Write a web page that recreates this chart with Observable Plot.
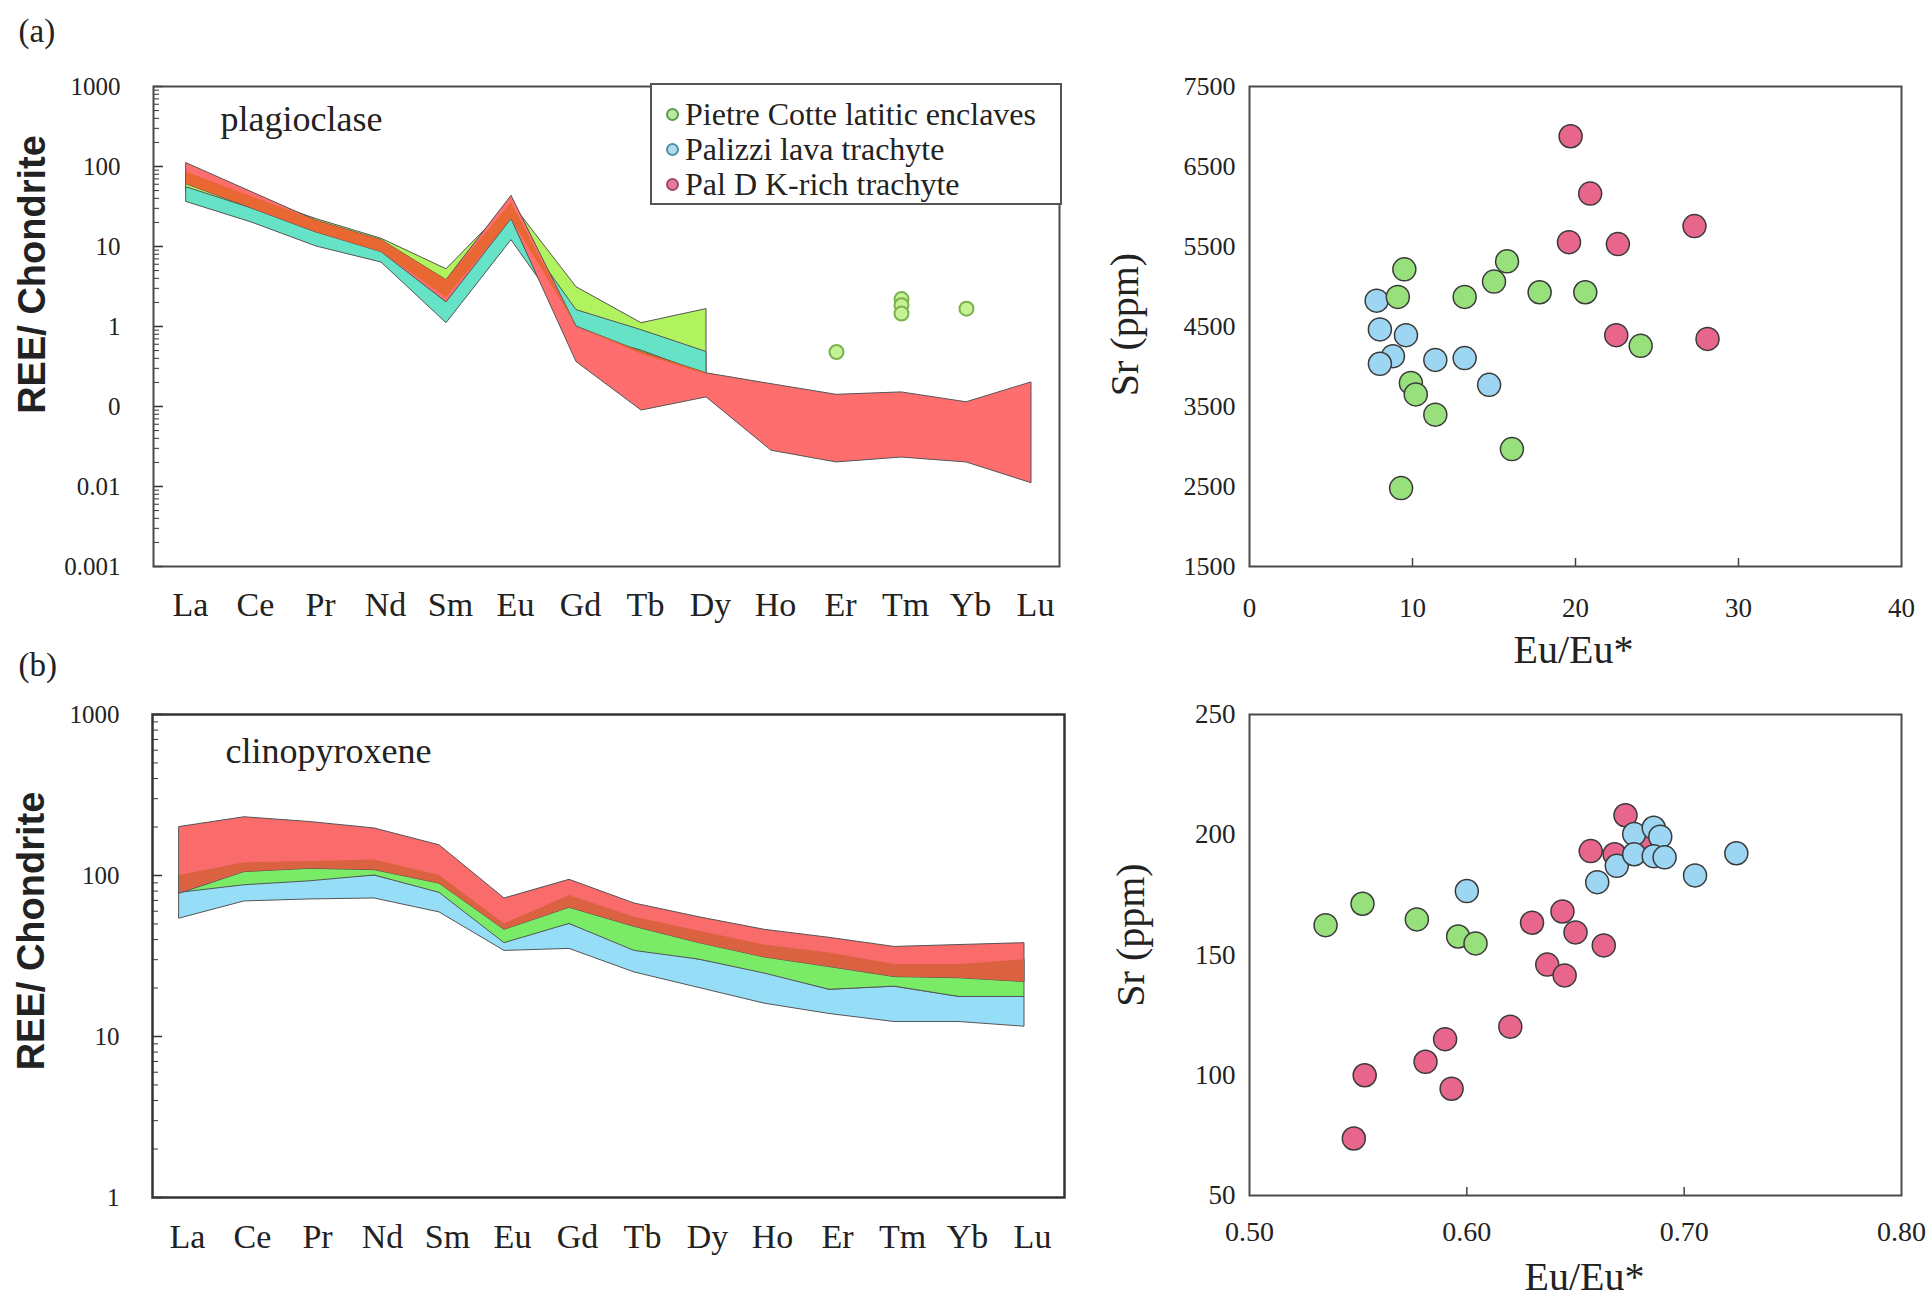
<!DOCTYPE html>
<html><head><meta charset="utf-8">
<script src="https://cdn.jsdelivr.net/npm/d3@7"></script>
<script src="https://cdn.jsdelivr.net/npm/@observablehq/plot@0.6"></script>
<style>
body{margin:0;background:#fff;}
#wrap{position:relative;width:1931px;height:1302px;background:#fff;overflow:hidden;font-family:"Liberation Serif","Times New Roman",serif;}
.legend{position:absolute;left:650px;top:83px;width:412px;height:122px;box-sizing:border-box;border:2px solid #555;background:#fff;padding-top:12px;}
.legend .row{height:35px;display:flex;align-items:center;font-size:32px;color:#222;white-space:nowrap;font-family:"Liberation Serif","Times New Roman",serif;}
.legend .mk{width:13px;height:13px;border-radius:50%;border:2px solid;margin-left:14px;margin-right:6px;box-sizing:border-box;}
</style></head>
<body><div id="wrap"></div>
<script>
// ---------- data ----------
const elements = ["La","Ce","Pr","Nd","Sm","Eu","Gd","Tb","Dy","Ho","Er","Tm","Yb","Lu"];

// (a) plagioclase REE/Chondrite ranges (low / high)
const plagPietreLo  = [48, 26, 14, 8, 2.3, 18, 1.0, 0.45, 0.25];
const plagPietreHi  = [85, 42, 22, 12.5, 5.2, 35, 3.1, 1.1, 1.65];
const plagPalizziLo = [36, 20, 10, 6.3, 1.1, 12, 0.85, 0.5, 0.25];
const plagPalizziHi = [55, 30, 15, 9.5, 2.4, 22, 1.6, 0.9, 0.48];
const plagPalDLo    = [60, 30, 15, 8.5, 2.0, 22, 0.36, 0.089, 0.13, 0.028, 0.02, 0.023, 0.02, 0.011];
const plagPalDHi    = [110, 48, 21, 12, 3.8, 43, 1.0, 0.48, 0.26, 0.19, 0.14, 0.15, 0.113, 0.2];
const plagPietrePtEl  = ["Er","Tm","Tm","Tm","Yb"];
const plagPietrePtVal = [0.48, 2.2, 1.85, 1.45, 1.67];

// (a) plagioclase Sr vs Eu/Eu*
const plagPietreEu  = [9.5, 9.1, 13.2, 15.0, 15.8, 17.8, 20.6, 24.0, 9.9, 10.2, 11.4, 16.1, 9.3];
const plagPietreSr  = [5215, 4870, 4870, 5062, 5315, 4928, 4928, 4258, 3795, 3651, 3398, 2968, 2480];
const plagPalizziEu = [7.8, 8.0, 9.6, 8.8, 8.0, 11.4, 13.2, 14.7];
const plagPalizziSr = [4823, 4464, 4392, 4129, 4034, 4082, 4105, 3771];
const plagPalDEu    = [19.7, 20.9, 19.6, 22.6, 27.3, 22.5, 28.1];
const plagPalDSr    = [6878, 6161, 5554, 5530, 5755, 4392, 4345];

// (b) clinopyroxene REE/Chondrite ranges
const cpxPalDLo    = [77, 105, 110, 108, 89, 46, 63, 48, 38, 31, 27, 23.4, 23, 21.8];
const cpxPalDHi    = [200, 230, 215, 196, 154, 72, 94, 67, 55, 46, 41, 36, 37, 38];
const cpxPietreLo  = [78, 87, 92, 100, 78, 38, 50, 34, 30, 24.6, 19.5, 20.4, 17.6, 17.6];
const cpxPietreHi  = [100, 120, 122, 125, 100, 50, 75, 55, 45, 37, 33, 28, 28, 30];
const cpxPalizziLo = [54, 69, 71, 72, 59, 34, 35, 25, 20, 16, 13.8, 12.3, 12.3, 11.5];
const cpxPalizziHi = [80, 88, 95, 100, 80, 40, 50, 35, 30, 25, 19.5, 20.4, 17.6, 17.6];

// (b) clinopyroxene Sr vs Eu/Eu*
const cpxPietreEu  = [0.535, 0.552, 0.577, 0.596, 0.604];
const cpxPietreSr  = [162.4, 171.3, 164.8, 157.7, 154.8];
const cpxPalizziEu = [0.600, 0.660, 0.669, 0.677, 0.677, 0.686, 0.689, 0.686, 0.691, 0.705, 0.724];
const cpxPalizziSr = [176.6, 180.3, 187.1, 200.3, 191.9, 202.9, 199.2, 191.1, 190.6, 183.1, 192.3];
const cpxPalDEu    = [0.673, 0.657, 0.668, 0.684, 0.630, 0.644, 0.650, 0.663, 0.637, 0.645, 0.620, 0.590, 0.581, 0.553, 0.593, 0.548];
const cpxPalDSr    = [208.1, 193.2, 191.9, 197.6, 163.4, 168.1, 159.4, 154.0, 146.0, 141.5, 120.2, 115.0, 105.6, 100.0, 94.4, 73.7];

// tick labels
const logTicksA = [0.001, 0.01, 0.1, 1, 10, 100, 1000];
const logLabelsA = ["0.001", "0.01", "0", "1", "10", "100", "1000"];
const logTicksB = [1, 10, 100, 1000];
const logLabelsB = ["1", "10", "100", "1000"];
const srTicksA = [1500, 2500, 3500, 4500, 5500, 6500, 7500];
const euTicksA = [0, 10, 20, 30, 40];
const srTicksB = [50, 100, 150, 200, 250];
const euTicksB = [0.5, 0.6, 0.7, 0.8];

const groups = ["Pietre Cotte latitic enclaves", "Palizzi lava trachyte", "Pal D K-rich trachyte"];

// ---------- helpers ----------
const serif = "'Liberation Serif','Times New Roman',serif";
const sans = "'Liberation Sans',Arial,sans-serif";
const wrap = document.getElementById("wrap");
function place(node, left, top) {
  node.style.position = "absolute"; node.style.left = left + "px"; node.style.top = top + "px";
  wrap.appendChild(node);
}
function bandRows(lo, hi) { return lo.map((v, i) => ({el: elements[i], lo: v, hi: hi[i]})); }
function overlapRows(lo1, hi1, lo2, hi2) {
  const n = Math.min(lo1.length, lo2.length), out = [];
  for (let i = 0; i < n; i++) {
    let lo = Math.max(lo1[i], lo2[i]), hi = Math.min(hi1[i], hi2[i]);
    if (hi < lo) { const m = Math.sqrt(lo * hi); lo = m; hi = m; }
    out.push({el: elements[i], lo, hi});
  }
  return out;
}
function pts(xs, ys) { return xs.map((x, i) => ({x, y: ys[i]})); }
function minors(majors) {
  const out = [];
  for (const m of majors.slice(0, -1)) for (let k = 2; k <= 9; k++) out.push(m * k);
  return out;
}
const svgStyle = {fontFamily: serif, background: "transparent", maxWidth: "none", color: "#222", overflow: "visible"};
const band = (rows, fill, extra = {}) => Plot.areaY(rows, {x: "el", y1: "lo", y2: "hi", fill, stroke: "#555", strokeWidth: 1, ...extra});
const txt = (s, opts) => Plot.text([s], {text: d => d, fontFamily: serif, fill: "#222", textAnchor: "middle", lineAnchor: "middle", ...opts});

// ---------- (a) left: plagioclase REE ----------
{
  const W = 1090, H = 650, mL = 153, mR = 31, mT = 86, mB = 84;
  const fw = W - mL - mR;
  const labelMap = new Map(logTicksA.map((t, i) => [t, logLabelsA[i]]));
  const p = Plot.plot({
    width: W, height: H, marginLeft: mL, marginRight: mR, marginTop: mT, marginBottom: mB,
    style: svgStyle,
    x: {type: "point", domain: elements, range: [182, 1034], padding: 0, label: null},
    y: {type: "log", domain: [0.001, 1000], label: null},
    marks: [
      band(bandRows(plagPietreLo, plagPietreHi), "#b0f35e"),
      band(bandRows(plagPalizziLo, plagPalizziHi), "#66e2c6"),
      band(bandRows(plagPalDLo, plagPalDHi), "#ff6e6e"),
      Plot.areaY(overlapRows(plagPalDLo, plagPalDHi, plagPietreLo, plagPietreHi), {x: "el", y1: "lo", y2: "hi", fill: "#e8662f", fillOpacity: 0.95}),
      Plot.dot(plagPietrePtEl.map((e, i) => ({el: e, v: plagPietrePtVal[i]})), {x: "el", y: "v", r: 7, fill: "#c4f295", stroke: "#7ab24c", strokeWidth: 2}),
      Plot.tickY(logTicksA, {y: d => d, insetRight: fw - 10, stroke: "#333", strokeWidth: 1.5}),
      Plot.tickY(minors(logTicksA), {y: d => d, insetRight: fw - 6, stroke: "#333", strokeWidth: 1}),
      Plot.axisY(logTicksA, {tickSize: 0, tickPadding: 33, fontSize: 25, fontFamily: serif, tickFormat: d => labelMap.get(d), label: null}),
      Plot.axisX(elements, {tickSize: 0, tickPadding: 25, fontSize: 34, fontFamily: serif, label: null, dx: 4}),
      Plot.frame({stroke: "#4a4a4a", strokeWidth: 2}),
      txt("REE/ Chondrite", {frameAnchor: "left", rotate: -90, dx: -121, dy: -52, fontSize: 38, fontWeight: "bold", fontFamily: sans}),
      txt("plagioclase", {frameAnchor: "top-left", textAnchor: "start", dx: 67, dy: 33, fontSize: 36}),
      txt("(a)", {frameAnchor: "top-left", textAnchor: "start", dx: -135, dy: -55, fontSize: 33})
    ]
  });
  place(p, 0, 0);
}

// legend (a)
{
  const lg = document.createElement("div");
  lg.className = "legend";
  const mk = [["#5c9a4e", "#b8eaa2"], ["#4f8fa8", "#b2dcee"], ["#a04a68", "#e27c9a"]];
  groups.forEach((g, i) => {
    const row = document.createElement("div"); row.className = "row";
    const c = document.createElement("span"); c.className = "mk";
    c.style.borderColor = mk[i][0]; c.style.background = mk[i][1];
    const t = document.createElement("span"); t.textContent = g;
    row.appendChild(c); row.appendChild(t); lg.appendChild(row);
  });
  wrap.appendChild(lg);
}

const dotStyle = {r: 11.5, stroke: "#3a3a3a", strokeWidth: 1.5};
const cGreen = "#98e07c", cBlue = "#9dd6f2", cRed = "#e8668c";

// ---------- (a) right: Sr vs Eu/Eu* ----------
{
  const W = 831, H = 700, mL = 149, mR = 30, mT = 86, mB = 134;
  const fh = H - mT - mB;
  const p = Plot.plot({
    width: W, height: H, marginLeft: mL, marginRight: mR, marginTop: mT, marginBottom: mB,
    style: svgStyle,
    x: {domain: [0, 40], label: null},
    y: {domain: [1500, 7500], label: null},
    marks: [
      Plot.tickX([10, 20, 30], {x: d => d, insetTop: fh - 8, stroke: "#444", strokeWidth: 1.5}),
      Plot.dot(pts(plagPalDEu, plagPalDSr), {x: "x", y: "y", fill: cRed, ...dotStyle}),
      Plot.dot(pts(plagPalizziEu, plagPalizziSr), {x: "x", y: "y", fill: cBlue, ...dotStyle}),
      Plot.dot(pts(plagPietreEu, plagPietreSr), {x: "x", y: "y", fill: cGreen, ...dotStyle}),
      Plot.axisY(srTicksA, {tickSize: 0, tickPadding: 14, fontSize: 26, fontFamily: serif, tickFormat: d => String(d), label: null}),
      Plot.axisX(euTicksA, {tickSize: 0, tickPadding: 31, fontSize: 27, fontFamily: serif, tickFormat: d => String(d), label: null}),
      Plot.frame({stroke: "#4a4a4a", strokeWidth: 2}),
      txt("Sr (ppm)", {frameAnchor: "left", rotate: -90, dx: -124, dy: -2, fontSize: 40}),
      txt("Eu/Eu*", {frameAnchor: "bottom", dx: -2, dy: 84, fontSize: 40})
    ]
  });
  place(p, 1100, 0);
}

// ---------- (b) left: clinopyroxene REE ----------
{
  const W = 1090, H = 652, mL = 152, mR = 26, mT = 64, mB = 105;
  const fw = W - mL - mR;
  const labelMap = new Map(logTicksB.map((t, i) => [t, logLabelsB[i]]));
  const p = Plot.plot({
    width: W, height: H, marginLeft: mL, marginRight: mR, marginTop: mT, marginBottom: mB,
    style: svgStyle,
    x: {type: "point", domain: elements, range: [176, 1027], padding: 0, label: null},
    y: {type: "log", domain: [1, 1000], label: null},
    marks: [
      band(bandRows(cpxPalizziLo, cpxPalizziHi), "#96def8"),
      band(bandRows(cpxPietreLo, cpxPietreHi), "#7aeb66"),
      band(bandRows(cpxPalDLo, cpxPalDHi), "#fa6c6c"),
      Plot.areaY(overlapRows(cpxPalDLo, cpxPalDHi, cpxPietreLo, cpxPietreHi), {x: "el", y1: "lo", y2: "hi", fill: "#d9623e", fillOpacity: 0.95}),
      Plot.tickY(logTicksB, {y: d => d, insetRight: fw - 10, stroke: "#333", strokeWidth: 1.5}),
      Plot.tickY(minors(logTicksB), {y: d => d, insetRight: fw - 6, stroke: "#333", strokeWidth: 1}),
      Plot.axisY(logTicksB, {tickSize: 0, tickPadding: 33, fontSize: 25, fontFamily: serif, tickFormat: d => labelMap.get(d), label: null}),
      Plot.axisX(elements, {tickSize: 0, tickPadding: 26, fontSize: 34, fontFamily: serif, label: null, dx: 8}),
      Plot.frame({stroke: "#333", strokeWidth: 2.5}),
      txt("REE/ Chondrite", {frameAnchor: "left", rotate: -90, dx: -121, dy: -25, fontSize: 38, fontWeight: "bold", fontFamily: sans}),
      txt("clinopyroxene", {frameAnchor: "top-left", textAnchor: "start", dx: 73, dy: 37, fontSize: 36}),
      txt("(b)", {frameAnchor: "top-left", textAnchor: "start", dx: -134, dy: -49, fontSize: 33})
    ]
  });
  place(p, 0, 650);
}

// ---------- (b) right: Sr vs Eu/Eu* ----------
{
  const W = 831, H = 602, mL = 149, mR = 30, mT = 14, mB = 107;
  const fh = H - mT - mB;
  const p = Plot.plot({
    width: W, height: H, marginLeft: mL, marginRight: mR, marginTop: mT, marginBottom: mB,
    style: svgStyle,
    x: {domain: [0.5, 0.8], label: null},
    y: {domain: [50, 250], label: null},
    marks: [
      Plot.tickX([0.6, 0.7], {x: d => d, insetTop: fh - 8, stroke: "#444", strokeWidth: 1.5}),
      Plot.dot(pts(cpxPalDEu, cpxPalDSr), {x: "x", y: "y", fill: cRed, ...dotStyle}),
      Plot.dot(pts(cpxPalizziEu, cpxPalizziSr), {x: "x", y: "y", fill: cBlue, ...dotStyle}),
      Plot.dot(pts(cpxPietreEu, cpxPietreSr), {x: "x", y: "y", fill: cGreen, ...dotStyle}),
      Plot.axisY(srTicksB, {tickSize: 0, tickPadding: 14, fontSize: 27, fontFamily: serif, tickFormat: d => String(d), label: null}),
      Plot.axisX(euTicksB, {tickSize: 0, tickPadding: 26, fontSize: 28, fontFamily: serif, tickFormat: d => d.toFixed(2), label: null}),
      Plot.frame({stroke: "#4a4a4a", strokeWidth: 2}),
      txt("Sr (ppm)", {frameAnchor: "left", rotate: -90, dx: -118, dy: -20, fontSize: 40}),
      txt("Eu/Eu*", {frameAnchor: "bottom", dx: 9, dy: 82, fontSize: 40})
    ]
  });
  place(p, 1100, 700);
}
</script></body></html>
